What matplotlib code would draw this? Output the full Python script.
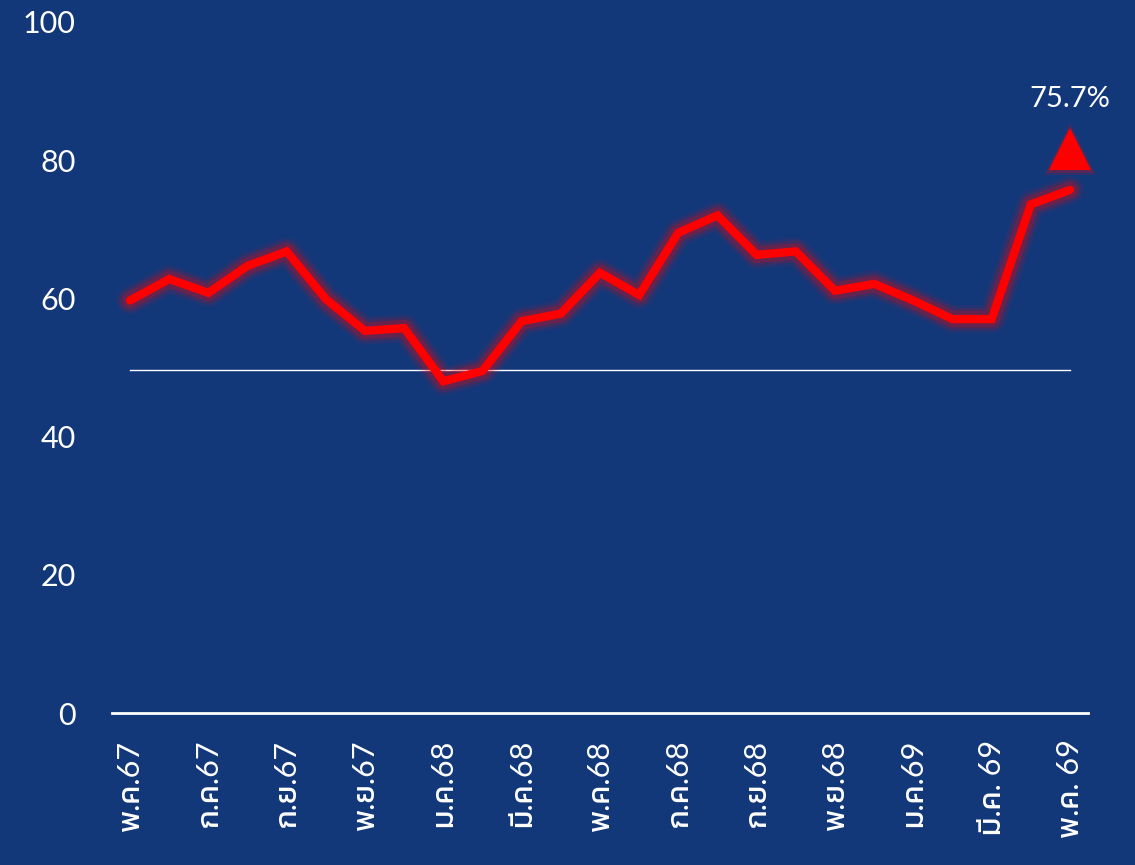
import matplotlib
matplotlib.use("Agg")
import matplotlib.pyplot as plt
from matplotlib import font_manager
from matplotlib.ft2font import FT2Font

# ---- data ----
months = list(range(25))
values = [59.7, 62.8, 60.8, 64.7, 66.8, 59.9, 55.3, 55.7, 48.0, 49.5,
          56.7, 57.8, 63.7, 60.5, 69.5, 72.0, 66.3, 66.8, 61.1, 62.1,
          59.7, 57.0, 57.0, 73.6, 75.7]
tick_pos = [0, 2, 4, 6, 8, 10, 12, 14, 16, 18, 20, 22, 24]
tick_labels = ["พ.ค.67", "ก.ค.67", "ก.ย.67", "พ.ย.67", "ม.ค.68", "มี.ค.68",
               "พ.ค.68", "ก.ค.68", "ก.ย.68", "พ.ย.68", "ม.ค.69", "มี.ค. 69",
               "พ.ค. 69"]
ref_level = 49.6
last_label = "75.7%"
y_ticks = [0, 20, 40, 60, 80, 100]

# ---- font with Thai coverage (prefer loopless modern faces) ----
thai_fams = []
for f in font_manager.fontManager.ttflist:
    try:
        if 0x0E1E in FT2Font(f.fname).get_charmap():
            if f.name not in thai_fams:
                thai_fams.append(f.name)
    except Exception:
        pass
preferred = ["Kanit", "Prompt", "Noto Sans Thai", "Noto Sans Thai UI",
             "IBM Plex Sans Thai", "Sarabun", "Loma", "Garuda"]
thai_family = None
for p in preferred:
    if p in thai_fams:
        thai_family = p
        break
if thai_family is None and thai_fams:
    thai_family = thai_fams[0]
fams = ["Lato"] + ([thai_family] if thai_family else []) + ["DejaVu Sans"]
plt.rcParams["font.family"] = fams

BG = "#12387A"
RED = "#FF0000"

fig = plt.figure(figsize=(11.35, 8.65), dpi=100, facecolor=BG)
ax = fig.add_axes([0.0987, 0.1757, 0.8599, 0.7989], facecolor=BG)

# glow
for lw, a in [(20, 0.07), (16, 0.12), (12, 0.22)]:
    ax.plot(months, values, color=RED, lw=lw, alpha=a,
            solid_joinstyle="round", solid_capstyle="round", zorder=3)
ax.plot(months, values, color=RED, lw=6, solid_joinstyle="miter",
        solid_capstyle="round", zorder=4)

ax.plot([months[0], months[-1]], [ref_level, ref_level], color="white",
        lw=1, zorder=2)

# triangle marker + label above last point
tri_y = values[-1] + 5.9
for ms, a in [(37, 0.12), (34, 0.2)]:
    ax.plot([months[-1]], [tri_y], marker="^", ms=ms, color=RED,
            alpha=a, mew=0, clip_on=False, zorder=5)
ax.plot([months[-1]], [tri_y], marker="^", ms=30, color=RED, mew=0,
        clip_on=False, zorder=6)
ax.text(months[-1], values[-1] + 13.2, last_label, color="white",
        fontsize=21, ha="center", va="center", clip_on=False, zorder=6)

ax.set_xlim(-0.46, 24.46)
ax.set_ylim(0, 100)
ax.set_yticks(y_ticks)
ax.set_yticklabels([str(v) for v in y_ticks])
ax.set_xticks(tick_pos)
ax.set_xticklabels(tick_labels, rotation=90)
ax.tick_params(axis="y", length=0, pad=26, labelsize=22, labelcolor="white")
ax.tick_params(axis="x", length=0, pad=19, labelsize=22, labelcolor="white")
for s in ["top", "right", "left"]:
    ax.spines[s].set_visible(False)
ax.spines["bottom"].set_color("white")
ax.spines["bottom"].set_linewidth(2)

fig.savefig("out.png", dpi=100, facecolor=BG)
